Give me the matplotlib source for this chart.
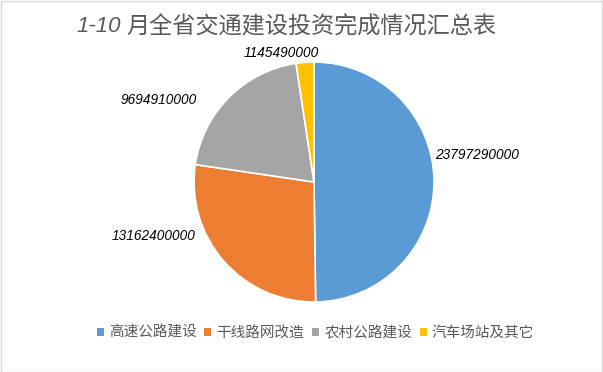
import matplotlib
matplotlib.use("Agg")
import matplotlib.pyplot as plt
from matplotlib.patches import Rectangle

plt.rcParams['font.family'] = ['Noto Sans CJK SC', 'DejaVu Sans']

categories = ['高速公路建设', '干线路网改造', '农村公路建设', '汽车场站及其它']
values = [23797290000, 13162400000, 9694910000, 1145490000]
colors = ['#5B9BD5', '#ED7D31', '#A5A5A5', '#FFC000']
title_num = '1-10'
title_text = '月全省交通建设投资完成情况汇总表'

W, H = 603, 372
fig = plt.figure(figsize=(W / 100, H / 100), dpi=100)
fig.patch.set_facecolor('white')
fig.patches.append(Rectangle((0.5 / W, 0.5 / H), 1 - 1.5 / W, 1 - 1.5 / H, transform=fig.transFigure,
                             fill=False, edgecolor='#D9D9D9', linewidth=1))

cx, cy, r = 314, 182, 120
ax = fig.add_axes([(cx - r) / W, (H - cy - r) / H, 2 * r / W, 2 * r / H])
wedges, _ = ax.pie(values, colors=colors, startangle=90, counterclock=False,
                   wedgeprops=dict(edgecolor='white', linewidth=1.2), radius=1)
ax.set_xlim(-1, 1)
ax.set_ylim(-1, 1)
ax.set_aspect('auto')
ax.axis('off')

label_pos = [(1.01, 0.225, 'left'), (-0.99, -0.45, 'right'), (-0.98, 0.683, 'right'), (-0.27, 1.075, 'center')]
for v, (x, y, ha) in zip(values, label_pos):
    ax.text(x, y, f'{v}', ha=ha, va='center', fontsize=9.8, style='italic',
            family=['Liberation Sans'], color='#000000', clip_on=False)

fig.text(121 / W, 1 - 27 / H, title_num, ha='right', va='center', fontsize=16, style='italic',
         family=['Liberation Sans'], color='#595959')
fig.text(126 / W, 1 - 27 / H, title_text, ha='left', va='center', fontsize=16.7, color='#595959')

fs = 10.5
leg = fig.legend(wedges, categories, loc='center', bbox_to_anchor=(315.5 / W, 1 - 333 / H),
                 ncol=4, frameon=False, fontsize=fs, handlelength=0.48, handleheight=0.48,
                 handletextpad=0.34, columnspacing=0.55, labelcolor='#595959')
for h in leg.legend_handles:
    h.set_edgecolor('none')

fig.savefig('out.png', dpi=100)
